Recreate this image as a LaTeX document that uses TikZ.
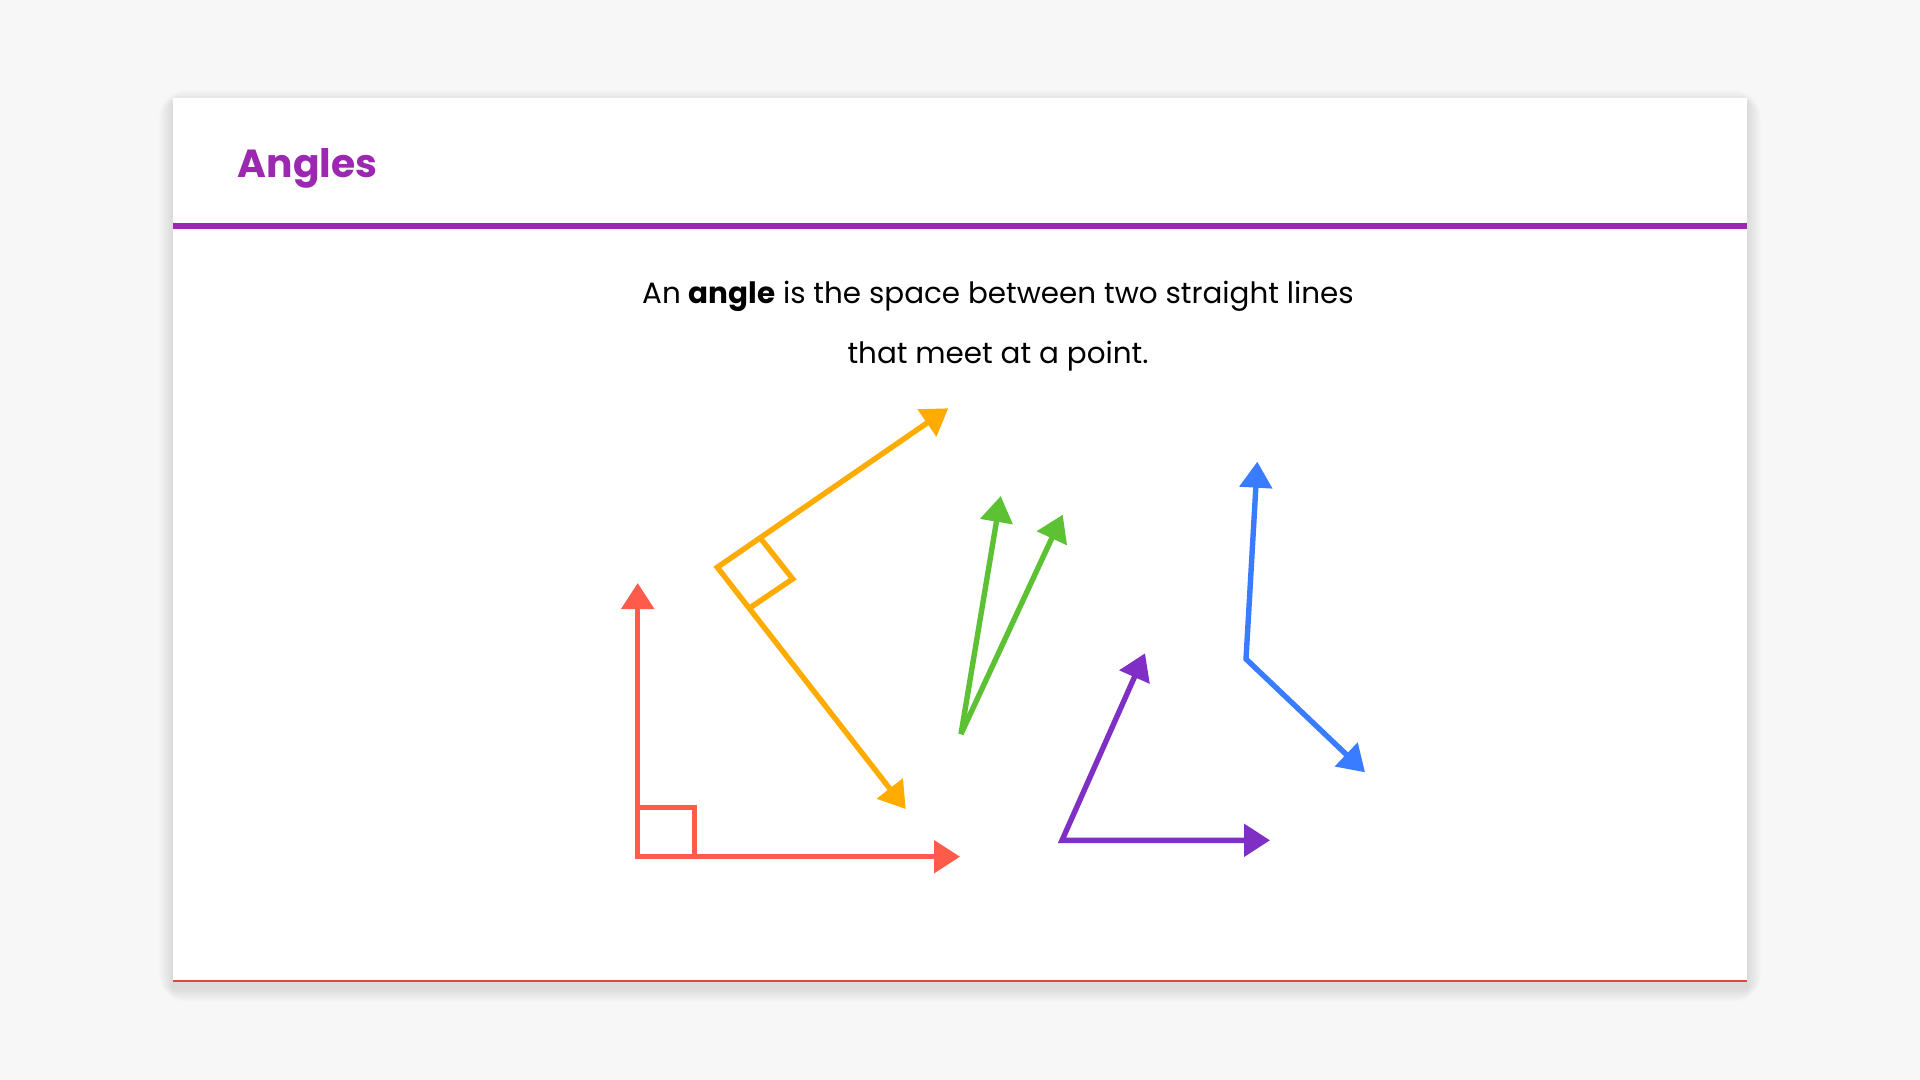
\documentclass[tikz,border=0pt]{standalone}
\usepackage{fontspec}
\setmainfont{Poppins}
\usetikzlibrary{arrows.meta}
\definecolor{pagegray}{HTML}{F7F7F7}
\definecolor{headpurple}{HTML}{9C27B0}
\definecolor{edgered}{HTML}{E0473A}
\definecolor{rayred}{HTML}{FF5B4A}
\definecolor{rayorange}{HTML}{FFAB00}
\definecolor{raygreen}{HTML}{5CC233}
\definecolor{rayblue}{HTML}{3A7CFF}
\definecolor{rayviolet}{HTML}{7F2FC4}
\begin{document}
\begin{tikzpicture}[x=0.5pt,y=-0.5pt,
  >={Triangle[length=13pt,width=16pt]},
  ray/.style={draw=#1,line width=2.7pt,line join=miter},
  corner/.style={draw=#1,line width=2.7pt}]
\useasboundingbox (0,0) rectangle (1920,1080);
\fill[pagegray] (0,0) rectangle (1920,1080);

\foreach \d in {1,...,14}
  \fill[black,opacity=0.008,rounded corners=\d] (173-\d,98-\d+6) rectangle (1747+\d,982+\d+6);
\fill[white] (173,98) rectangle (1747,982);
\draw[headpurple,line width=3pt] (173,226) -- (1747,226);
\draw[edgered,line width=0.6pt] (173,981) -- (1747,981);

\node[anchor=base west,inner sep=0,text=headpurple,font=\fontsize{19.6}{24}\selectfont\bfseries] (title) at (237.5,177.7) {Angles};
\node[anchor=base,inner sep=0,font=\fontsize{14.7}{18}\selectfont] (intro1) at (998,304) {An \textbf{angle} is the space between two straight lines};
\node[anchor=base,inner sep=0,font=\fontsize{14.7}{18}\selectfont] (intro2) at (998,363.3) {that meet at a point.};

\coordinate (redO) at (637.7,856.7);
\coordinate (redA) at (637.7,583);
\coordinate (redB) at (960,856.7);
\coordinate (redSq) at (694.7,807.3);
\draw[ray=rayred,<->] (redA) -- (redO) -- (redB);
\draw[corner=rayred] (redO |- redSq) -| (redSq |- redO);

\coordinate (orgO) at (717.3,567.3);
\coordinate (orgA) at (948.3,408.3);
\coordinate (orgB) at (905.7,809);
\coordinate (orgA1) at (760.4,538.2);
\coordinate (orgSq) at (792.7,578.9);
\coordinate (orgB1) at (749.6,608);
\draw[ray=rayorange,<->] (orgA) -- (orgO) -- (orgB);
\draw[corner=rayorange] (orgA1) -- (orgSq) -- (orgB1);

\coordinate (grnO) at (961,734);
\coordinate (grnA) at (1000.7,496);
\coordinate (grnB) at (1062.7,514.7);
\draw[ray=raygreen,line join=bevel,<->] (grnA) -- (grnO) -- (grnB);

\coordinate (vioO) at (1062,840.3);
\coordinate (vioA) at (1145,653.3);
\coordinate (vioB) at (1270,840.3);
\draw[ray=rayviolet,<->] (vioA) -- (vioO) -- (vioB);

\coordinate (bluO) at (1246,659);
\coordinate (bluA) at (1257.3,461.7);
\coordinate (bluB) at (1365,772.3);
\draw[ray=rayblue,<->] (bluA) -- (bluO) -- (bluB);
\end{tikzpicture}
\end{document}
